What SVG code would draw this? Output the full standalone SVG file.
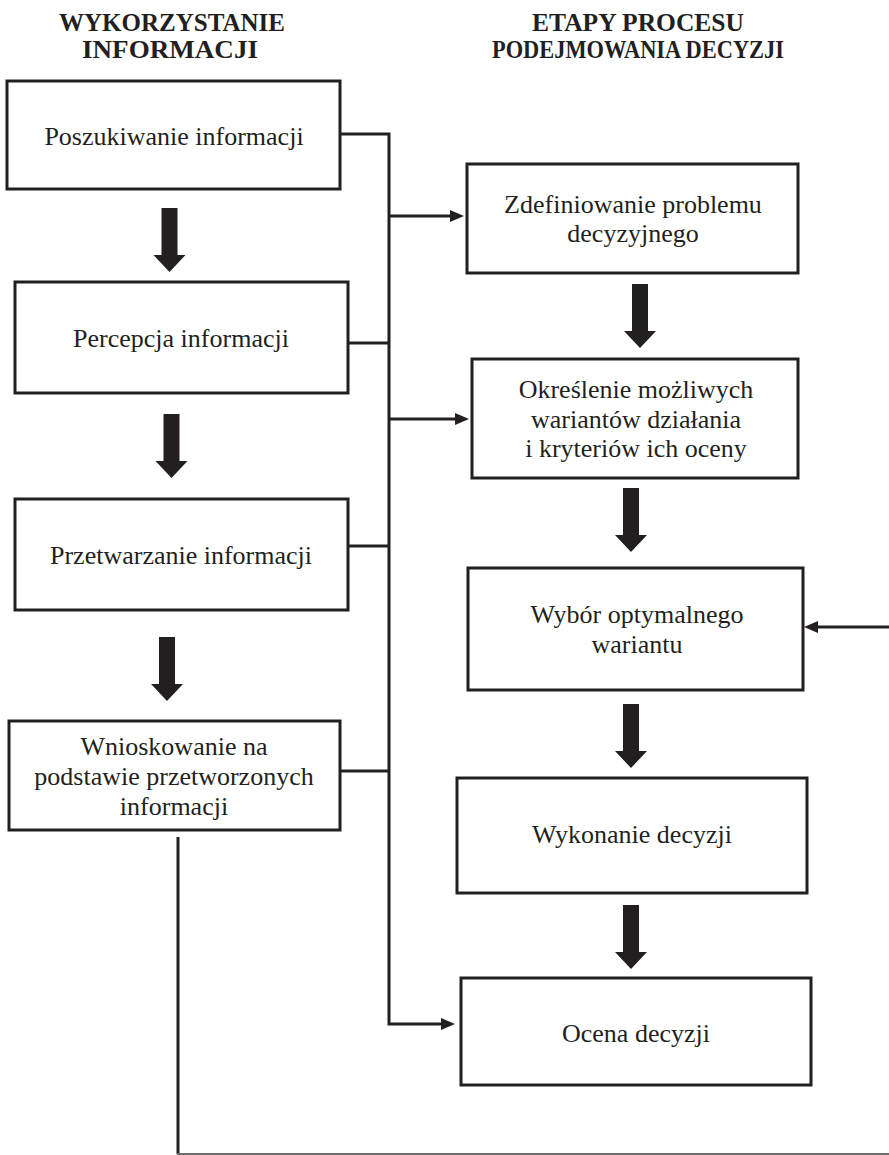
<svg xmlns="http://www.w3.org/2000/svg" xmlns:xlink="http://www.w3.org/1999/xlink" width="889" height="1155" viewBox="0 0 889 1155">
  <style>
    .box { fill: #ffffff; stroke: #231f20; stroke-width: 3; }
    .txt { font-family: "Liberation Serif", "Times New Roman", serif; font-size: 26px; fill: #231f20; text-anchor: middle; }
    .hdr { font-family: "Liberation Serif", "Times New Roman", serif; font-size: 26px; font-weight: bold; fill: #231f20; text-anchor: middle; }
    .wire { fill: none; stroke: #231f20; stroke-width: 3; }
    .edge { fill: none; stroke: #6e6e6e; stroke-width: 2; }
    .thick { fill: #231f20; }
  </style>
  <defs>
    <marker id="tip" markerUnits="userSpaceOnUse" markerWidth="14" markerHeight="12" refX="4" refY="6" orient="auto">
      <path d="M0,0 L14,6 L0,12 Z" fill="#231f20"/>
    </marker>
    <!-- block arrow pointing down, origin at top centre -->
    <path id="down" d="M-8,0 H8 V47 H16 L0,64 L-16,47 H-8 Z"/>
  </defs>

  <rect width="889" height="1155" fill="#ffffff"/>

  <!-- column headers (condensed bold caps) -->
  <g id="header-left">
    <text class="hdr" x="172" y="31" textLength="226" lengthAdjust="spacingAndGlyphs">WYKORZYSTANIE</text>
    <text class="hdr" x="170" y="58" textLength="176" lengthAdjust="spacingAndGlyphs">INFORMACJI</text>
  </g>
  <g id="header-right">
    <text class="hdr" x="638" y="31" textLength="212" lengthAdjust="spacingAndGlyphs">ETAPY PROCESU</text>
    <text class="hdr" x="638" y="58" textLength="292" lengthAdjust="spacingAndGlyphs">PODEJMOWANIA DECYZJI</text>
  </g>

  <!-- left column: use of information -->
  <g id="poszukiwanie">
    <rect class="box" x="7" y="81" width="333" height="108"/>
    <text class="txt" x="174" y="145">Poszukiwanie informacji</text>
  </g>
  <g id="percepcja">
    <rect class="box" x="15" y="282" width="333" height="111"/>
    <text class="txt" x="181" y="347">Percepcja informacji</text>
  </g>
  <g id="przetwarzanie">
    <rect class="box" x="15" y="499" width="333" height="111"/>
    <text class="txt" x="181" y="564">Przetwarzanie informacji</text>
  </g>
  <g id="wnioskowanie">
    <rect class="box" x="9" y="721" width="331" height="109"/>
    <text class="txt" x="174" y="755">Wnioskowanie na</text>
    <text class="txt" x="174" y="785">podstawie przetworzonych</text>
    <text class="txt" x="174" y="815">informacji</text>
  </g>

  <!-- right column: decision-making stages -->
  <g id="zdefiniowanie">
    <rect class="box" x="467" y="164" width="331" height="109"/>
    <text class="txt" x="633" y="213">Zdefiniowanie problemu</text>
    <text class="txt" x="633" y="242">decyzyjnego</text>
  </g>
  <g id="okreslenie">
    <rect class="box" x="472" y="359" width="326" height="119"/>
    <text class="txt" x="636" y="398">Określenie możliwych</text>
    <text class="txt" x="636" y="428">wariantów działania</text>
    <text class="txt" x="636" y="457">i kryteriów ich oceny</text>
  </g>
  <g id="wybor">
    <rect class="box" x="468" y="568" width="335" height="122"/>
    <text class="txt" x="637" y="623">Wybór optymalnego</text>
    <text class="txt" x="637" y="653">wariantu</text>
  </g>
  <g id="wykonanie">
    <rect class="box" x="457" y="778" width="350" height="115"/>
    <text class="txt" x="632" y="843">Wykonanie decyzji</text>
  </g>
  <g id="ocena">
    <rect class="box" x="461" y="978" width="350" height="107"/>
    <text class="txt" x="636" y="1042">Ocena decyzji</text>
  </g>

  <!-- connectors -->
  <g id="connectors">
    <!-- block arrows between consecutive steps -->
    <use class="thick" xlink:href="#down" x="169.5" y="208"/>
    <use class="thick" xlink:href="#down" x="171.5" y="414"/>
    <use class="thick" xlink:href="#down" x="167" y="637"/>
    <use class="thick" xlink:href="#down" x="640" y="284"/>
    <use class="thick" xlink:href="#down" x="631" y="488"/>
    <use class="thick" xlink:href="#down" x="631" y="704"/>
    <use class="thick" xlink:href="#down" x="631" y="905"/>

    <!-- information bus -->
    <path class="wire" d="M340,134 H389 V1024 H445" marker-end="url(#tip)"/>
    <path class="wire" d="M348,343 H389"/>
    <path class="wire" d="M348,546 H389"/>
    <path class="wire" d="M340,771 H389"/>
    <path class="wire" d="M389,216 H454" marker-end="url(#tip)"/>
    <path class="wire" d="M389,419 H459" marker-end="url(#tip)"/>

    <!-- feedback loop from conclusions back to the choice of variant -->
    <path class="wire" d="M178,837 V1154"/>
    <path class="edge" d="M177,1154 H889"/>
    <path class="wire" d="M889,627 H814" marker-end="url(#tip)"/>
  </g>
</svg>
